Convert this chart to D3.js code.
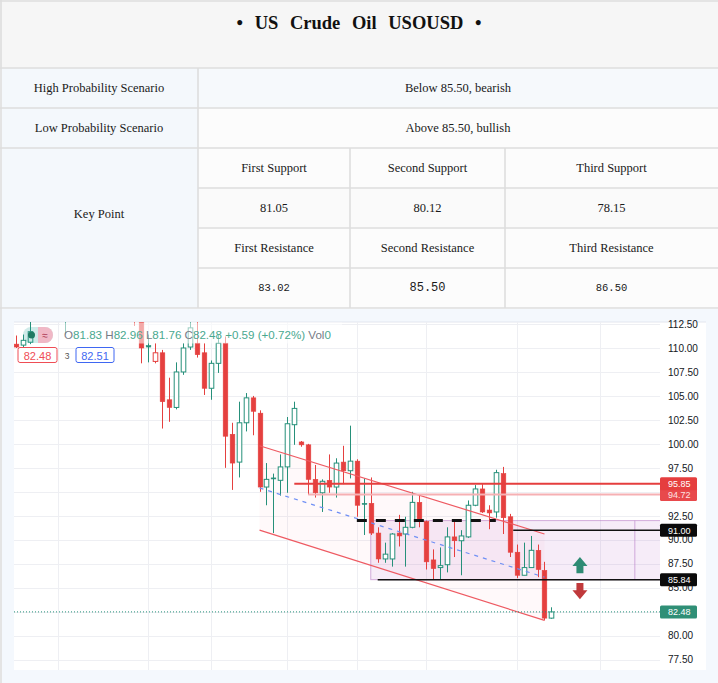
<!DOCTYPE html>
<html><head><meta charset="utf-8">
<script src="https://cdn.jsdelivr.net/npm/d3@7"></script>
<style>
html,body{margin:0;padding:0;background:#fff;}
svg{display:block;}
</style></head>
<body>
<svg id="c" width="718" height="683"></svg>
<script>
// ---------------- DATA ----------------
const titleText = "• US Crude Oil USOUSD •";
const scenarioLabels = ["High Probability Scenario", "Low Probability Scenario"];
const scenarioTexts = ["Below 85.50, bearish", "Above 85.50, bullish"];
const keyPointLabel = "Key Point";
const supportLabels = ["First Support", "Second Support", "Third Support"];
const supportValues = ["81.05", "80.12", "78.15"];
const resistanceLabels = ["First Resistance", "Second Resistance", "Third Resistance"];
const resistanceValues = ["83.02", "85.50", "86.50"];

// OHLC per bar (index 0..77); null = bar above the visible range
const opens = [110.4,110.3,110.6,null,null,null,null,114.0,null,null,null,null,null,null,null,null,null,115.0,113.5,110.25,
  108.6,109.5,104.6,103.8,107.5,110.1,110.5,109.5,105.8,108.4,110.5,101.0,98.1,102.2,104.8,103.2,95.5,96.45,96.2,97.6,
  102.0,100.2,99.9,96.3,94.9,96.2,95.5,98.1,97.2,98.2,93.8,93.8,90.7,88.0,88.0,90.7,90.6,91.3,93.9,91.9,
  87.9,87.1,87.4,90.3,89.9,90.3,93.6,95.3,93.1,92.9,96.9,92.4,88.7,86.3,87.1,88.9,86.8,81.83];
const highs = [111.3,111.4,113.0,null,null,null,null,116.0,null,null,null,null,null,null,null,null,null,116.0,114.0,111.4,
  110.5,109.8,106.9,108.5,110.5,112.7,113.0,110.5,108.7,111.4,111.2,102.2,104.4,105.3,105.0,103.5,98.0,96.9,98.9,102.8,
  104.4,100.3,100.0,97.8,96.3,98.9,98.5,99.8,101.9,98.4,96.4,96.5,91.3,89.7,90.7,92.6,92.4,95.0,94.7,92.0,
  89.0,89.2,91.3,92.0,91.0,94.1,95.7,95.8,93.6,97.3,97.6,92.7,89.5,89.7,90.4,89.5,87.7,82.96];
const lows = [110.0,110.0,110.4,null,null,null,null,111.4,null,null,null,null,null,null,null,null,null,112.3,108.4,108.5,
  108.4,101.6,102.3,103.6,107.2,109.8,109.0,105.1,104.6,107.4,97.5,95.2,96.5,101.3,100.9,95.0,93.6,90.7,94.6,94.9,
  99.9,99.7,94.7,94.4,92.9,94.9,94.4,95.8,96.4,92.4,90.5,90.5,87.6,87.6,87.2,89.3,87.2,91.2,91.3,86.9,
  85.9,85.9,86.6,88.2,86.3,90.2,93.5,92.8,91.1,92.3,90.6,88.2,86.0,86.3,87.1,86.1,81.6,81.76];
const closes = [110.1,110.8,111.7,null,null,null,null,115.0,null,null,null,null,null,null,null,null,null,114.0,110.0,110.1,
  109.5,104.4,103.8,107.5,110.0,112.1,109.3,105.8,108.4,110.5,100.8,98.0,102.2,104.8,103.4,95.5,96.3,96.35,97.6,102.1,
  103.7,99.9,96.3,94.9,96.1,95.5,98.0,97.2,98.2,93.6,93.7,90.7,88.0,88.5,90.6,90.4,91.3,93.9,91.9,87.7,
  87.0,87.3,90.3,89.9,90.4,93.6,95.3,92.9,92.8,97.0,92.3,88.7,86.3,87.1,88.9,86.9,81.83,82.48];

const priceTicks = [77.5,80,82.5,85,87.5,90,92.5,95,97.5,100,102.5,105,107.5,110,112.5];
const hiddenTickLabels = [95, 82.5];   // covered by price tags in the reference
const timeGridBars = [6,19,28,39,49,59,72,84];

// drawings
const channel = {start:35, end:76, upper:[99.8,90.6], lower:[91.0,81.6]};
const zone = {start:51, top:92.0, bottom:85.84, innerEdge:89};
const resistanceLine = {value:95.85, start:40};
const paleLine = {value:94.72, start:42};
const dashedLevel = {value:92.0, start:49, end:69};
const level91 = {value:91.00, start:71.5};
const level8584 = {value:85.84, start:52};
const lastPrice = 82.48;
const arrows = [{dir:"up", bar:81.1, tip:88.2, base:86.5}, {dir:"down", bar:81.1, tip:83.8, base:85.5}];
const legendParts = [["O","#787b86"],["81.83","#4aa88f"],[" H","#787b86"],["82.96","#4aa88f"],[" L","#787b86"],["81.76","#4aa88f"],
  [" C","#787b86"],["82.48","#4aa88f"],[" +0.59 (+0.72%)","#4aa88f"],[" Vol","#787b86"],["0","#4aa88f"]];

// ---------------- RENDER ----------------
const svg = d3.select("#c");
const serif = "'Liberation Serif','Times New Roman',serif";
const sans = "'Liberation Sans',Arial,sans-serif";
const mono = "'Liberation Mono','DejaVu Sans Mono',monospace";
const border = "#dedede";

// --- table ---
const colX = [2,198,350,505,718];
const rowY = [0,68,108,148,188,228,268,308];
function cell(x0,y0,x1,y1,fill){
  svg.append("rect").attr("x",x0).attr("y",y0).attr("width",x1-x0).attr("height",y1-y0).attr("fill",fill);
}
function ctext(x,y,t,opts={}){
  svg.append("text").attr("x",x).attr("y",y).attr("text-anchor","middle").attr("dominant-baseline","central")
    .attr("font-family",opts.family||serif).attr("font-size",opts.size||12.5).attr("font-weight",opts.weight||"normal")
    .attr("fill",opts.fill||"#1a1a1a").style("word-spacing",(opts.ws||0)+"px").text(t);
}
cell(0,0,718,68,"#f6f6f6");
cell(2,68,198,308,"#f4f8fc");
cell(198,68,718,108,"#f6f9fc");
cell(198,108,718,148,"#fcfcfc");
cell(198,148,718,308,"#fcfcfc");
cell(198,188,718,228,"#fafafa");
ctext(359,23,titleText,{size:18.5,weight:"bold",ws:7,fill:"#111"});
scenarioLabels.forEach((t,i)=>{
  ctext(99,(rowY[i+1]+rowY[i+2])/2,t);
  ctext(458,(rowY[i+1]+rowY[i+2])/2,scenarioTexts[i]);
});
ctext(99,214,keyPointLabel);
[0,1,2].forEach(j=>{
  const cx=(colX[j+1]+colX[j+2])/2;
  ctext(cx,168,supportLabels[j]);
  ctext(cx,208,supportValues[j]);
  ctext(cx,248,resistanceLabels[j]);
  ctext(cx,288,resistanceValues[j],{family:mono,size:j===1?12:10.5});
});
// table borders
const lineG = svg.append("g").attr("stroke",border).attr("stroke-width",1.6);
[68,108,148,308].forEach(y=>lineG.append("line").attr("x1",0).attr("x2",718).attr("y1",y).attr("y2",y));
[188,228,268].forEach(y=>lineG.append("line").attr("x1",198).attr("x2",718).attr("y1",y).attr("y2",y));
lineG.append("line").attr("x1",1).attr("x2",1).attr("y1",0).attr("y2",683);
lineG.append("line").attr("x1",0).attr("x2",718).attr("y1",1).attr("y2",1);
lineG.append("line").attr("x1",198).attr("x2",198).attr("y1",68).attr("y2",308);
[350,505].forEach(x=>lineG.append("line").attr("x1",x).attr("x2",x).attr("y1",148).attr("y2",308));

// --- chart panel ---
cell(2,309,718,683,"#f4f8fd");
const P = {l:14, r:660, t:322, b:670, axisR:706};
cell(P.l,P.t,P.axisR,P.b,"#ffffff");
svg.append("line").attr("x1",P.l).attr("x2",P.axisR).attr("y1",P.t).attr("y2",P.t).attr("stroke","#e3e6ee").attr("stroke-width",1);

const x = d3.scaleLinear().domain([-0.33, 92.62]).range([P.l, P.r]);
const y = d3.scaleLinear().domain([76.42, 112.71]).range([P.b, P.t]);

svg.append("clipPath").attr("id","plot").append("rect").attr("x",P.l).attr("y",P.t).attr("width",P.r-P.l).attr("height",P.b-P.t);
const plot = svg.append("g").attr("clip-path","url(#plot)");

// grid
plot.append("g").selectAll("line").data(priceTicks).join("line")
  .attr("x1",P.l).attr("x2",P.r).attr("y1",d=>Math.round(y(d))+0.5).attr("y2",d=>Math.round(y(d))+0.5)
  .attr("stroke","#eeeff3").attr("stroke-width",1);
plot.append("g").selectAll("line").data(timeGridBars).join("line")
  .attr("x1",d=>Math.round(x(d))+0.5).attr("x2",d=>Math.round(x(d))+0.5).attr("y1",P.t).attr("y2",P.b)
  .attr("stroke","#eeeff3").attr("stroke-width",1);

// channel fill
const chPts = [[channel.start,channel.upper[0]],[channel.end,channel.upper[1]],[channel.end,channel.lower[1]],[channel.start,channel.lower[0]]];
plot.append("path").attr("d",d3.line().x(d=>x(d[0])).y(d=>y(d[1]))(chPts)+"Z").attr("fill","#f23645").attr("fill-opacity",0.028);

// zone rectangle
plot.append("rect").attr("x",x(zone.start)).attr("y",y(zone.top)).attr("width",P.r-x(zone.start)+2)
  .attr("height",y(zone.bottom)-y(zone.top)).attr("fill","#9c27b0").attr("fill-opacity",0.09)
  .attr("stroke","#b77cc4").attr("stroke-opacity",0.6).attr("stroke-width",1);
plot.append("line").attr("x1",x(zone.innerEdge)).attr("x2",x(zone.innerEdge)).attr("y1",y(zone.top)).attr("y2",y(zone.bottom))
  .attr("stroke","#b77cc4").attr("stroke-opacity",0.6);

// candles
const red = "#e5403f", green = "#26907a";
const bars = d3.range(opens.length).filter(i=>opens[i]!==null).map(i=>{
  let prev = null;
  for(let k=i-1;k>=0;k--){ if(closes[k]!==null){prev=closes[k];break;} }
  const ref = prev===null ? opens[i] : prev;
  return {i, o:opens[i], h:highs[i], l:lows[i], c:closes[i], hollow: closes[i]>opens[i], col: closes[i]>=ref ? green : red};
});
const bw = 4.6;
const cg = plot.append("g");
cg.selectAll("line").data(bars).join("line")
  .attr("x1",d=>Math.round(x(d.i))+0.5).attr("x2",d=>Math.round(x(d.i))+0.5)
  .attr("y1",d=>y(d.h)).attr("y2",d=>y(d.l)).attr("stroke",d=>d.col).attr("stroke-width",1);
cg.selectAll("rect").data(bars).join("rect")
  .attr("x",d=>Math.round(x(d.i))+0.5-bw/2).attr("width",bw)
  .attr("y",d=>y(Math.max(d.o,d.c))).attr("height",d=>Math.max(1,Math.abs(y(d.o)-y(d.c))))
  .attr("fill",d=>d.hollow?"#ffffff":d.col).attr("stroke",d=>d.col).attr("stroke-width",d=>d.hollow?1:0.6);

// channel lines
const up = [[channel.start,channel.upper[0]],[channel.end,channel.upper[1]]];
const lo = [[channel.start,channel.lower[0]],[channel.end,channel.lower[1]]];
const mid = [[channel.start,(channel.upper[0]+channel.lower[0])/2],[channel.end,(channel.upper[1]+channel.lower[1])/2]];
const ln = d3.line().x(d=>x(d[0])).y(d=>y(d[1]));
plot.append("path").attr("d",ln(up)).attr("stroke","#ee5a62").attr("stroke-width",1.2).attr("fill","none");
plot.append("path").attr("d",ln(lo)).attr("stroke","#ee5a62").attr("stroke-width",1.2).attr("fill","none");
plot.append("path").attr("d",ln(mid)).attr("stroke","#6f8ff5").attr("stroke-width",1.2).attr("stroke-dasharray","4,5").attr("fill","none");

// horizontal levels
function hline(v,x0,x1,stroke,w,dash){
  const l = plot.append("line").attr("x1",x0).attr("x2",x1).attr("y1",y(v)).attr("y2",y(v)).attr("stroke",stroke).attr("stroke-width",w);
  if(dash) l.attr("stroke-dasharray",dash);
}
hline(paleLine.value,x(paleLine.start),P.r,"#f6b0b3",2);
hline(resistanceLine.value,x(resistanceLine.start),P.r,"#e53e3e",2);
hline(dashedLevel.value,x(dashedLevel.start),x(dashedLevel.end),"#111",3,"10,9");
hline(level91.value,x(level91.start),P.r,"#111",1.5);
hline(level8584.value,x(level8584.start),P.r,"#111",1.5);
hline(lastPrice,P.l,P.r,"#26907a",1,"1,2");

// arrows
arrows.forEach(a=>{
  const cx = x(a.bar), yt = y(a.tip), yb = y(a.base);
  const s = a.dir==="up" ? 1 : -1;
  const headEnd = yt + s*9;
  const d = `M${cx},${yt} L${cx+7.5},${headEnd} L${cx+3.5},${headEnd} L${cx+3.5},${yb} L${cx-3.5},${yb} L${cx-3.5},${headEnd} L${cx-7.5},${headEnd} Z`;
  plot.append("path").attr("d",d).attr("fill",a.dir==="up"?"#2e8b74":"#c0393b");
});

// legend overlay
svg.append("rect").attr("x",60).attr("y",P.t+0.5).attr("width",282).attr("height",21).attr("fill","#ffffff").attr("fill-opacity",0.55);
const lt = svg.append("text").attr("x",64).attr("y",339).attr("font-family",sans).attr("font-size",11.6);
legendParts.forEach(p=>lt.append("tspan").attr("fill",p[1]).attr("xml:space","preserve").text(p[0]));
// pill
svg.append("rect").attr("x",23).attr("y",327).attr("width",30).attr("height",16).attr("rx",8).attr("fill","#26a69a").attr("fill-opacity",0.22);
svg.append("path").attr("d","M38,327 L45,327 A8,8 0 0 1 45,343 L38,343 Z").attr("fill","#f3b3c2").attr("fill-opacity",0.9);
svg.append("circle").attr("cx",31.5).attr("cy",335).attr("r",3.5).attr("fill","#1f7a62");
svg.append("text").attr("x",45).attr("y",338.5).attr("text-anchor","middle").attr("font-family",sans).attr("font-size",10).attr("fill","#a8324e").text("≈");
// value boxes
function vbox(x0,w,t,col){
  svg.append("rect").attr("x",x0).attr("y",347.5).attr("width",w).attr("height",15).attr("rx",2).attr("fill","#fff").attr("stroke",col).attr("stroke-width",1);
  svg.append("text").attr("x",x0+w/2).attr("y",355.5).attr("text-anchor","middle").attr("dominant-baseline","central")
    .attr("font-family",sans).attr("font-size",11).attr("fill",col).text(t);
}
vbox(18,39,"82.48","#ef4d55");
svg.append("text").attr("x",67).attr("y",358.5).attr("text-anchor","middle").attr("font-family",sans).attr("font-size",8.5).attr("fill","#555").text("3");
vbox(76,38,"82.51","#3f67f2");

// price axis
const fmt = d3.format(".2f");
const axis = d3.axisRight(y).tickValues(priceTicks).tickSize(0).tickPadding(8)
  .tickFormat(d=>hiddenTickLabels.includes(d) ? "" : fmt(d));
const ag = svg.append("g").attr("transform",`translate(${P.r},0)`).call(axis);
ag.select(".domain").remove();
ag.selectAll("text").attr("font-family",sans).attr("font-size",10).attr("fill","#131722");

// price tags
function tag(v,bg,fg){
  const cy = y(v);
  svg.append("rect").attr("x",P.r).attr("y",cy-6.5).attr("width",37).attr("height",13).attr("rx",1.5).attr("fill",bg);
  svg.append("text").attr("x",P.r+8).attr("y",cy+0.5).attr("dominant-baseline","central")
    .attr("font-family",sans).attr("font-size",9).attr("fill",fg).text(fmt(v));
}
tag(paleLine.value,"#e8494c","#fde3e3");
tag(resistanceLine.value,"#e53e3e","#ffffff");
tag(level91.value,"#0b0b0b","#ffffff");
tag(level8584.value,"#0b0b0b","#ffffff");
tag(lastPrice,"#2f8f76","#ffffff");
</script></body></html>
